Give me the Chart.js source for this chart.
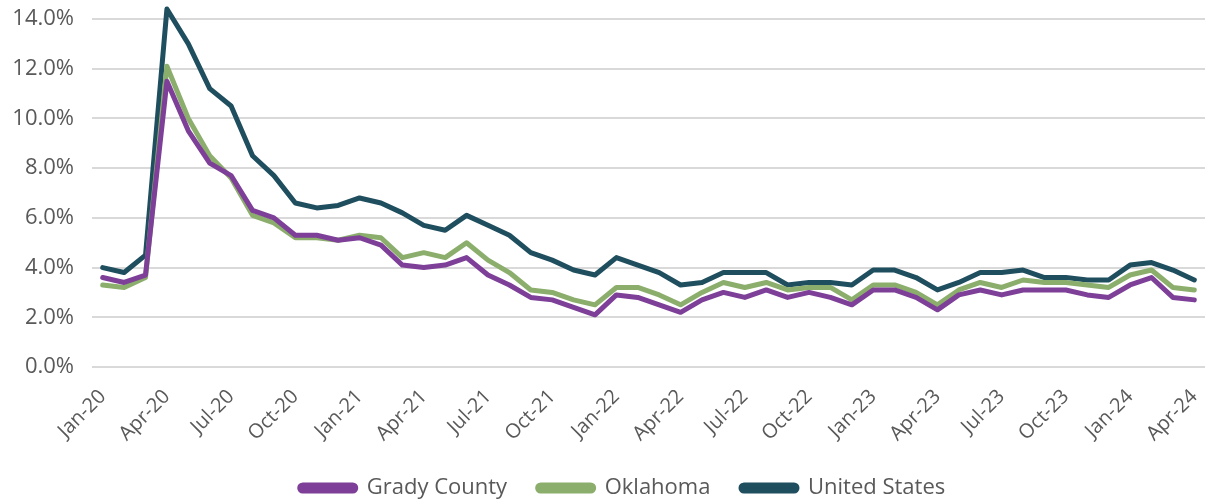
<!DOCTYPE html>
<html>
<head>
<meta charset="utf-8">
<script src="https://cdn.jsdelivr.net/npm/chart.js"></script>
<style>
  html, body { margin: 0; padding: 0; background: #fff; }
  #wrap { width: 1205px; height: 504px; }
</style>
</head>
<body>
<div id="wrap"><canvas id="myChart" width="1205" height="504"></canvas></div>
<script>
var months = ['Jan-20','Feb-20','Mar-20','Apr-20','May-20','Jun-20','Jul-20','Aug-20','Sep-20','Oct-20','Nov-20','Dec-20',
  'Jan-21','Feb-21','Mar-21','Apr-21','May-21','Jun-21','Jul-21','Aug-21','Sep-21','Oct-21','Nov-21','Dec-21',
  'Jan-22','Feb-22','Mar-22','Apr-22','May-22','Jun-22','Jul-22','Aug-22','Sep-22','Oct-22','Nov-22','Dec-22',
  'Jan-23','Feb-23','Mar-23','Apr-23','May-23','Jun-23','Jul-23','Aug-23','Sep-23','Oct-23','Nov-23','Dec-23',
  'Jan-24','Feb-24','Mar-24','Apr-24'];

var grady = [3.6,3.4,3.7,11.5,9.5,8.2,7.7,6.3,6.0,5.3,5.3,5.1,
  5.2,4.9,4.1,4.0,4.1,4.4,3.7,3.3,2.8,2.7,2.4,2.1,
  2.9,2.8,2.5,2.2,2.7,3.0,2.8,3.1,2.8,3.0,2.8,2.5,
  3.1,3.1,2.8,2.3,2.9,3.1,2.9,3.1,3.1,3.1,2.9,2.8,
  3.3,3.6,2.8,2.7];

var oklahoma = [3.3,3.2,3.6,12.1,10.0,8.5,7.6,6.1,5.8,5.2,5.2,5.1,
  5.3,5.2,4.4,4.6,4.4,5.0,4.3,3.8,3.1,3.0,2.7,2.5,
  3.2,3.2,2.9,2.5,3.0,3.4,3.2,3.4,3.1,3.2,3.2,2.7,
  3.3,3.3,3.0,2.5,3.1,3.4,3.2,3.5,3.4,3.4,3.3,3.2,
  3.7,3.9,3.2,3.1];

var usa = [4.0,3.8,4.5,14.4,13.0,11.2,10.5,8.5,7.7,6.6,6.4,6.5,
  6.8,6.6,6.2,5.7,5.5,6.1,5.7,5.3,4.6,4.3,3.9,3.7,
  4.4,4.1,3.8,3.3,3.4,3.8,3.8,3.8,3.3,3.4,3.4,3.3,
  3.9,3.9,3.6,3.1,3.4,3.8,3.8,3.9,3.6,3.6,3.5,3.5,
  4.1,4.2,3.9,3.5];

var fontName = "'Open Sans', 'Noto Sans', sans-serif";

const data = {
  labels: months,
  datasets: [
    { label: 'Grady County', data: grady, borderColor: '#7d3f98', backgroundColor: '#7d3f98', clip: false },
    { label: 'Oklahoma', data: oklahoma, borderColor: '#8bae6c', backgroundColor: '#8bae6c', clip: false },
    { label: 'United States', data: usa, borderColor: '#1f4e5f', backgroundColor: '#1f4e5f', clip: false }
  ]
};

// nudge the legend to where the original sits
const legendShift = {
  id: 'legendShift',
  afterLayout: function (chart) {
    chart.legend.left += 16;
    chart.legend.right += 16;
    chart.legend.top += 5;
    chart.legend.bottom += 5;
  }
};

const config = {
  type: 'line',
  data: data,
  plugins: [legendShift],
  options: {
    responsive: false,
    animation: false,
    layout: { padding: { top: 19, right: 0, left: 8, bottom: 0 } },
    elements: {
      line: { borderWidth: 5, tension: 0, borderJoinStyle: 'round', borderCapStyle: 'round' },
      point: { radius: 0, hoverRadius: 0 }
    },
    plugins: {
      legend: {
        position: 'bottom',
        labels: {
          boxWidth: 56,
          boxHeight: 6,
          useBorderRadius: true,
          borderRadius: 3,
          padding: 2,
          color: '#595959',
          font: { family: fontName, size: 22 },
          generateLabels: function (chart) {
            var items = Chart.defaults.plugins.legend.labels.generateLabels(chart);
            items.forEach(function (it, i) {
              if (i < items.length - 1) it.text = it.text + '     ';
            });
            return items;
          }
        }
      },
      tooltip: { enabled: false }
    },
    scales: {
      x: {
        offset: true,
        afterFit: function (axis) { axis.height = 103; axis.paddingRight = 0; },
        grid: { display: false },
        border: { display: false },
        ticks: {
          autoSkip: false,
          maxRotation: 45,
          minRotation: 45,
          padding: 10,
          color: '#595959',
          font: { family: fontName, size: 20 },
          callback: function (val, i) { return i % 3 === 0 ? months[i] : null; }
        }
      },
      y: {
        min: 0,
        max: 14,
        afterFit: function (axis) { axis.width = 84; axis.paddingTop = 0; axis.paddingBottom = 0; },
        ticks: {
          stepSize: 2,
          color: '#595959',
          padding: 18,
          font: { family: fontName, size: 22 },
          callback: function (v) { return v.toFixed(1) + '%'; }
        },
        grid: { color: '#d9d9d9', lineWidth: 2, drawTicks: false },
        border: { display: false }
      }
    }
  }
};

const myChart = new Chart(document.getElementById('myChart'), config);
</script>
</body>
</html>
